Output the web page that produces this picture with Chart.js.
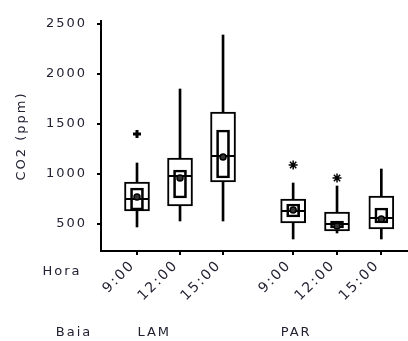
<!DOCTYPE html>
<html>
<head>
<meta charset="utf-8">
<script src="https://cdn.jsdelivr.net/npm/chart.js@4.4.0/dist/chart.umd.min.js"></script>
<style>
  html, body { margin: 0; padding: 0; background: #fff; }
  canvas { display: block; }
</style>
</head>
<body>
<canvas id="chart" width="408" height="341"></canvas>
<script>
// data (CO2 ppm)
const hours = ["9:00", "12:00", "15:00", "9:00", "12:00", "15:00"];
const positions = [1, 2, 3, 4.63, 5.65, 6.68];
const groups = ["LAM", "PAR"];
const groupPos = [1.4, 4.7];

const whiskerLow  = [470, 530, 530, 350, 410, 350];
const q1          = [630, 680, 920, 510, 430, 450];
const median      = [750, 980, 1180, 630, 500, 560];
const q3          = [920, 1160, 1620, 750, 620, 780];
const whiskerHigh = [1110, 1850, 2390, 910, 880, 1050];
const ciLow       = [640, 760, 960, 570, 460, 510];
const ciHigh      = [860, 1040, 1440, 700, 530, 660];
const means       = [770, 960, 1170, 640, 480, 550];

const plusOutliers = [{ x: 1, y: 1400 }];
const starOutliers = [{ x: 4.63, y: 1090 }, { x: 5.65, y: 960 }];

const yTicks = [500, 1000, 1500, 2000, 2500];

const textColor = "#222233";
const fontFamily = "'DejaVu Sans', Verdana, sans-serif";
const fontSize = 13;

const range = (lo, hi) => positions.map((x, i) => ({ x: x, y: [lo[i], hi[i]] }));

// the original text is a wide screen font, spread the letters a bit
const spacing = {
  id: "spacing",
  beforeInit(chart) { chart.ctx.letterSpacing = "2px"; },
  beforeDraw(chart) { chart.ctx.letterSpacing = "2px"; }
};

// median lines drawn right after the inner boxes
const medianPlugin = {
  id: "medians",
  afterDatasetDraw(chart, args) {
    if (args.index !== 2) return;
    const ctx = chart.ctx;
    const xs = chart.scales.x, ys = chart.scales.y;
    ctx.save();
    ctx.strokeStyle = "#000";
    ctx.lineWidth = 2;
    median.forEach((m, i) => {
      const px = xs.getPixelForValue(positions[i]);
      const py = ys.getPixelForValue(m);
      ctx.beginPath();
      ctx.moveTo(px - 12, py);
      ctx.lineTo(px + 12, py);
      ctx.stroke();
    });
    ctx.restore();
  }
};

// row labels under the axis
const rowLabels = {
  id: "rowLabels",
  afterDraw(chart) {
    const ctx = chart.ctx;
    const xs = chart.scales.x;
    ctx.save();
    ctx.font = fontSize + "px " + fontFamily;
    ctx.fillStyle = textColor;
    ctx.textAlign = "center";
    ctx.textBaseline = "middle";
    ctx.fillText("Hora", 62, 272);
    ctx.fillText("Baia", 74, 333);
    groups.forEach((g, i) => ctx.fillText(g, xs.getPixelForValue(groupPos[i]), 333));
    ctx.restore();
  }
};

new Chart(document.getElementById("chart"), {
  type: "bar",
  data: {
    datasets: [
      {
        label: "whisker",
        data: range(whiskerLow, whiskerHigh),
        backgroundColor: "#000",
        borderWidth: 0,
        barThickness: 2,
        grouped: false,
        order: 4
      },
      {
        label: "box",
        data: range(q1, q3),
        backgroundColor: "#fff",
        borderColor: "#000",
        borderWidth: 2,
        borderSkipped: false,
        barThickness: 25,
        grouped: false,
        order: 3
      },
      {
        label: "ci",
        data: range(ciLow, ciHigh),
        backgroundColor: "rgba(0,0,0,0)",
        borderColor: "#000",
        borderWidth: 2,
        borderSkipped: false,
        barThickness: 13,
        grouped: false,
        order: 2
      },
      {
        type: "scatter",
        label: "mean",
        data: positions.map((x, i) => ({ x: x, y: means[i] })),
        pointStyle: "circle",
        pointRadius: 3,
        backgroundColor: "#333",
        borderColor: "#000",
        borderWidth: 1.5,
        order: 1
      },
      {
        type: "scatter",
        label: "outlier+",
        data: plusOutliers,
        pointStyle: "cross",
        pointRadius: 4,
        borderColor: "#000",
        borderWidth: 3,
        order: 0
      },
      {
        type: "scatter",
        label: "outlier*",
        data: starOutliers,
        pointStyle: "star",
        pointRadius: 4.5,
        borderColor: "#000",
        borderWidth: 1.5,
        order: 0
      }
    ]
  },
  options: {
    responsive: false,
    animation: false,
    layout: { autoPadding: false, padding: { top: 21, right: 0, left: 0, bottom: 0 } },
    plugins: { legend: { display: false }, tooltip: { enabled: false } },
    scales: {
      x: {
        type: "linear",
        min: 0.163,
        max: 7.3,
        offset: false,
        afterBuildTicks: (scale) => { scale.ticks = positions.map(v => ({ value: v })); },
        afterFit: (scale) => {
          scale.height = 90;
          scale.paddingLeft = 0;
          scale.paddingRight = 0;
        },
        ticks: {
          minRotation: 45,
          maxRotation: 45,
          autoSkip: false,
          padding: 2,
          labelOffset: -4,
          color: textColor,
          font: { family: fontFamily, size: 14 },
          callback: (v, i) => hours[i]
        },
        grid: { drawOnChartArea: false, offset: false, tickLength: 4, color: "#000", lineWidth: 2 },
        border: { display: true, color: "#000", width: 2 }
      },
      y: {
        min: 230,
        max: 2530,
        afterBuildTicks: (scale) => { scale.ticks = yTicks.map(v => ({ value: v })); },
        afterFit: (scale) => {
          scale.width = 101;
          scale.paddingTop = 0;
          scale.paddingBottom = 0;
        },
        ticks: {
          padding: 10,
          color: textColor,
          font: { family: fontFamily, size: fontSize },
          callback: (v) => String(v)
        },
        grid: { drawOnChartArea: false, tickLength: 4, color: "#000", lineWidth: 2 },
        border: { display: true, color: "#000", width: 2 },
        title: {
          display: true,
          text: "CO2 (ppm)",
          color: textColor,
          font: { family: fontFamily, size: fontSize },
          padding: { top: 14, bottom: 0 }
        }
      }
    }
  },
  plugins: [spacing, medianPlugin, rowLabels]
});
</script>
</body>
</html>
